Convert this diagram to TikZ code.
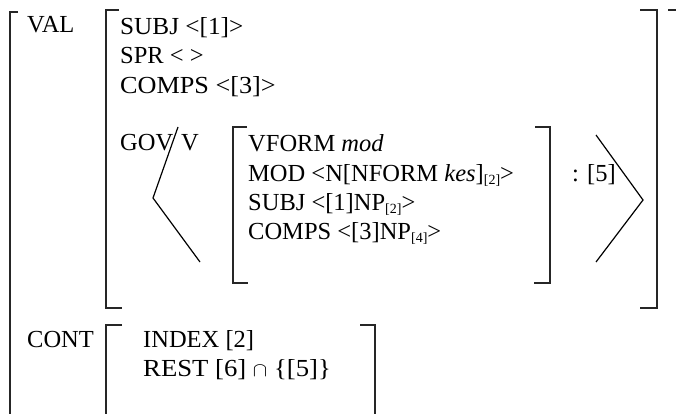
\documentclass[tikz,border=0pt]{standalone}
\usepackage{fontspec}
\setmainfont{Liberation Serif}
\newcommand{\subidx}[1]{\raisebox{-0.35ex}{\fontsize{14}{14}\selectfont #1}}
\begin{document}
\begin{tikzpicture}[x=1pt,y=-1pt,
  txt/.style={inner sep=0pt,anchor=base west,font=\fontsize{24.5}{29}\selectfont},
  brk/.style={line width=1.1pt,draw=black!85},
  ang/.style={line width=1.2pt,draw=black}]
\useasboundingbox (0,0) rectangle (676,414);
% outer brackets
\draw[brk] (18,12) -- (10,12) -- (10,416);
\draw[brk] (668,10) -- (677,10);
% VAL inner bracket
\draw[brk] (119,10) -- (106,10) -- (106,308) -- (122,308);
\draw[brk] (640,10) -- (657,10) -- (657,308) -- (640,308);
% VFORM bracket
\draw[brk] (247,127) -- (233,127) -- (233,283) -- (248,283);
\draw[brk] (535,127) -- (550,127) -- (550,283) -- (534,283);
% angle brackets
\draw[ang] (178,127) -- (153,198) -- (200,262);
\draw[ang] (596,135) -- (643,200) -- (596,262);
% CONT bracket
\draw[brk] (122,325) -- (106,325) -- (106,416);
\draw[brk] (360,325) -- (375,325) -- (375,416);
% texts
\node[txt] (val) at (27,33) {VAL};
\node[txt] (subj) at (120,35) {\scalebox{1.03}[1]{SUBJ <[1]>}};
\node[txt] (spr) at (120,64) {SPR < >};
\node[txt] (comps) at (120,94) {\scalebox{1.07}[1]{COMPS <[3]>}};
\node[txt] (gov) at (120,150) {GOV};
\node[txt] (v) at (181,150) {V};
\node[txt] (vform) at (248,152) {VFORM \textit{mod}};
\node[txt] (mod) at (248,181) {MOD <N[NFORM \textit{kes}]\subidx{[2]}>};
\node[txt] (isubj) at (248,210) {SUBJ <[1]NP\subidx{[2]}>};
\node[txt] (icomps) at (248,239) {COMPS <[3]NP\subidx{[4]}>};
\node[txt] (five) at (572,181) {: [5]};
\node[txt] (cont) at (27,347) {CONT};
\node[txt] (index) at (143,347) {INDEX [2]};
\node[txt] (rest) at (143,376) {\scalebox{1.09}[1]{REST [6] \scalebox{0.8}{$\cap$} \{[5]\}}};
\end{tikzpicture}
\end{document}
